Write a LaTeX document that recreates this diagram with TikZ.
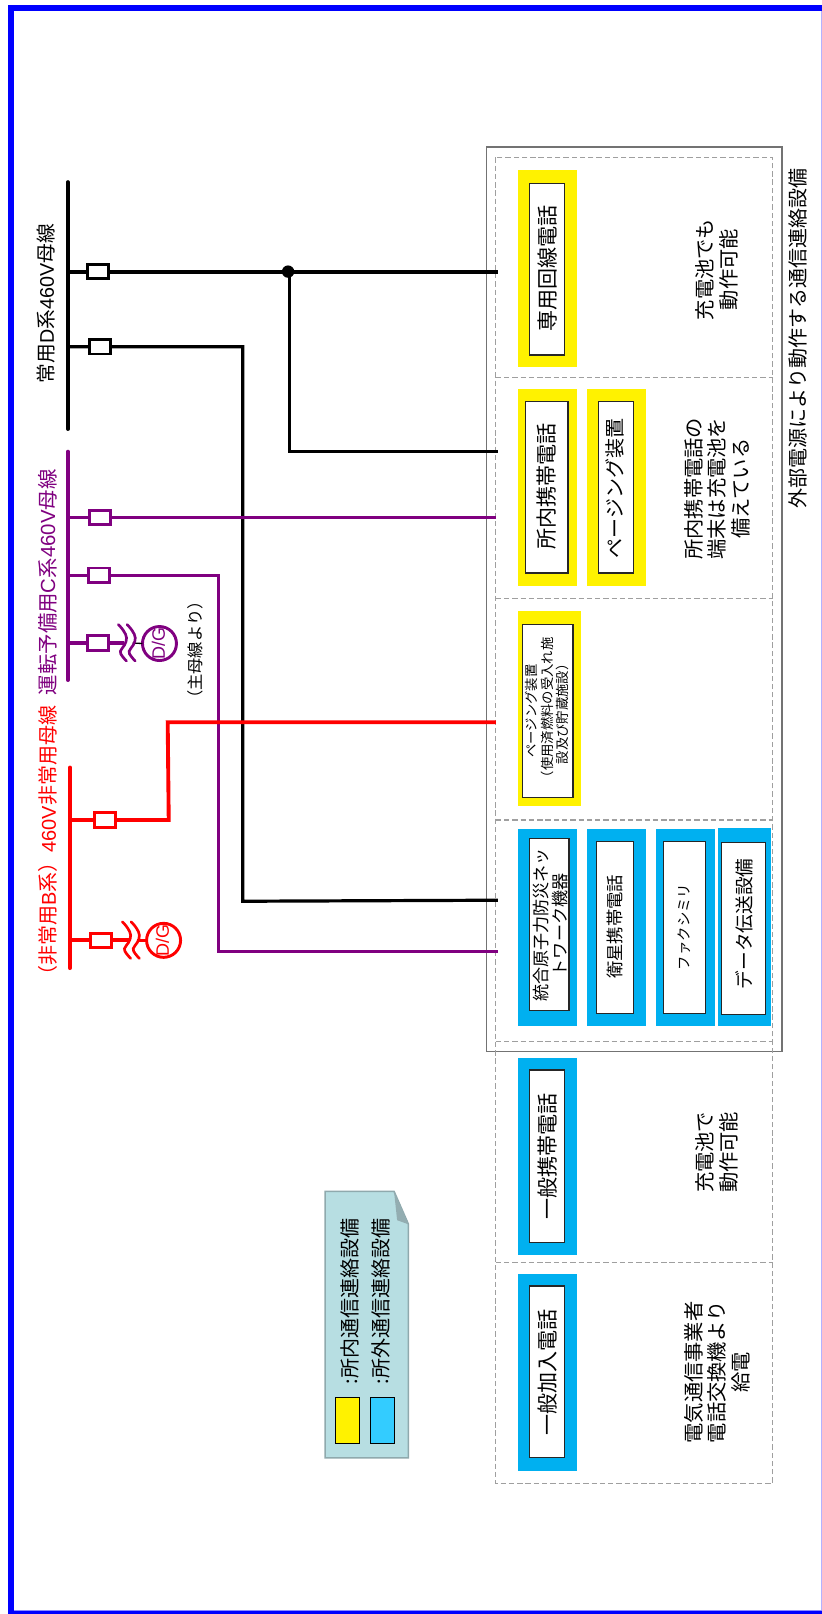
\documentclass[tikz,border=0pt]{standalone}
\usepackage{fontspec}
\setmainfont{Noto Sans CJK JP}
\newfontfamily\latinf{Liberation Sans}
\newcommand{\fs}[1]{\fontsize{#1}{\dimexpr#1pt*116/100\relax}\selectfont}
\definecolor{cyan1}{HTML}{00B0F0}
\definecolor{swatchb}{HTML}{33CCFF}
\definecolor{purp}{HTML}{800080}
\definecolor{legfill}{HTML}{B7DEE2}
\definecolor{legline}{HTML}{8FA9AD}
\definecolor{legfold}{HTML}{93ADB1}
\tikzset{
  x=0.7716pt,y=-0.7716pt,
  rt/.style={rotate=90,anchor=center,inner sep=0pt,align=center,text=black},
  busline/.style={line width=2.9pt,line cap=round},
  feed/.style={line width=2.4pt,line join=miter},
  breaker/.style={rectangle,draw,line width=2.1pt,fill=white,inner sep=0pt,outer sep=0pt,minimum width=15.8pt,minimum height=10.8pt},
  gen/.style={draw,circle,line width=2.2pt,fill=white,inner sep=0pt,outer sep=0pt,minimum size=25.5pt},
  gentext/.style={rotate=90,inner sep=0pt,font=\latinf\fs{13.5}},
  wave/.style={line width=2pt,line cap=round},
  yel/.style={fill=yellow,draw=none},
  blu/.style={fill=cyan1,draw=none},
  wb/.style={draw=black!85,line width=0.9pt,fill=white},
  dsh/.style={draw=gray!75,line width=0.8pt,dash pattern=on 4pt off 2.2pt},
}
\newcommand{\wavepair}[3]{% x of first stroke, y centre, colour
  \foreach \off in {0,8.5}{
    \draw[wave,#3,shift={(#1+\off,#2)}] plot[smooth,tension=0.7] coordinates {(0,-18) (5,-12) (8,-5) (6,2) (2,8) (4,13) (8,17.5)};
  }}
\begin{document}
\begin{tikzpicture}
\useasboundingbox (0,0) rectangle (798.97,1568.8);
\fill[white] (0,0) rectangle (798.97,1568.8);
% page frame
\fill[blue!45] (13.6,1564.9) rectangle (798.97,1566);
\draw[blue!30,line width=0.8pt] (798.3,11) -- (798.3,1565);
\fill[blue] (8,4.9) rectangle (798.97,10.7);
\fill[blue] (8,1565.8) rectangle (798.97,1568.8);
\fill[blue] (8,4.9) rectangle (13.6,1568.8);

% communication boxes frames
\draw[gray!90!black,line width=1pt] (473,143) rectangle (760,1022);
\draw[dsh] (482,153) rectangle (751,1442);
\foreach \yy in {367,582,797,1012,1227} \draw[dsh] (482,\yy) -- (751,\yy);

% yellow
\fill[yel] (503,165) rectangle (561,357);
\fill[yel] (503,378) rectangle (561,570);
\fill[yel] (571,378) rectangle (628,570);
\fill[yel] (503,594) rectangle (565,783);
% blue
\fill[blu] (503,806) rectangle (561,997);
\fill[blu] (571,806) rectangle (628,997);
\fill[blu] (638,806) rectangle (695,997);
\fill[blu] (698,805) rectangle (749,997);
\fill[blu] (503,1028) rectangle (561,1220);
\fill[blu] (503,1238) rectangle (561,1430);

% white boxes and labels
\draw[wb] (515,178) rectangle (549,345);
\node[rt,font=\fs{15.8}] (t1) at (532,261) {専用回線電話};
\draw[wb] (511,390) rectangle (552,557);
\node[rt,font=\fs{15.8}] (t2) at (531,473) {所内携帯電話};
\draw[wb] (582,390) rectangle (616,557);
\node[rt,font=\fs{15}] (t3) at (598,475) {ページング装置};
\draw[wb] (508,607) rectangle (557,775);
\node[rt,font=\fs{10}] (t4) at (532,691) {ページング装置\\（使用済燃料の受入れ施\\設及び貯蔵施設）};
\draw[wb] (515,815) rectangle (553,982);
\node[rt,font=\fs{12.8}] (t5) at (535,899) {統合原子力防災ネッ\\トワーク機器};
\draw[wb] (580,818) rectangle (616,985);
\node[rt,font=\fs{13}] (t6) at (598,901) {衛星携帯電話};
\draw[wb] (645,818) rectangle (686,985);
\node[rt,font=\fs{10.8}] (t7) at (665,901) {ファクシミリ};
\draw[wb] (701,819) rectangle (744,986);
\node[rt,font=\fs{14}] (t8) at (723,898) {データ伝送設備};
\draw[wb] (515,1040) rectangle (549,1208);
\node[rt,font=\fs{15.8}] (t9) at (532,1124) {一般携帯電話};
\draw[wb] (515,1250) rectangle (549,1417);
\node[rt,font=\fs{15.8}] (t10) at (532,1334) {一般加入電話};

% notes
\node[rt,font=\fs{15.2}] (n1) at (697,262) {充電池でも\\動作可能};
\node[rt,font=\fs{15.2}] (n2) at (697,475) {所内携帯電話の\\端末は充電池を\\備えている};
\node[rt,font=\fs{15.2}] (n3) at (697,1120) {充電池で\\動作可能};
\node[rt,font=\fs{15.2}] (n4) at (697,1334) {電気通信事業者\\電話交換機より\\給電};
\node[rt,font=\fs{15}] (n5) at (776,329) {外部電源により動作する通信連絡設備};

% buses
\coordinate (bd1) at (66,177); \coordinate (bd2) at (66,417);
\draw[busline] (bd1) -- (bd2);
\coordinate (bp1) at (66,439); \coordinate (bp2) at (66,661);
\draw[busline,purp] (bp1) -- (bp2);
\coordinate (br1) at (68,746); \coordinate (br2) at (68,941);
\draw[busline,red] (br1) -- (br2);
\node[rt,font=\fs{14.8}] (ld) at (45,295) {常用{\latinf D}系{\latinf 460V}母線};
\node[rt,font=\fs{15.3},text=purp] (lp) at (46,566) {運転予備用{\latinf C}系{\latinf 460V}母線};
\node[rt,font=\fs{15},text=red] (lr) at (47,822) {（非常用{\latinf B}系）{\latinf 460V}非常用母線};
\node[rt,font=\fs{12.2}] (lm) at (190,632) {（主母線より）};

% connector coordinates
\coordinate (e1) at (484,264); \coordinate (e2) at (484,439); \coordinate (e3) at (484,875);
\coordinate (e4) at (482,503); \coordinate (e5) at (484,925); \coordinate (e6) at (482,702);
\coordinate (s1) at (66,264); \coordinate (s2) at (66,337); \coordinate (s3) at (66,503);
\coordinate (s4) at (66,559); \coordinate (s5) at (66,625); \coordinate (s6) at (68,797); \coordinate (s7) at (68,914);
\coordinate (j1) at (280,264); \coordinate (j2) at (281,439);
\coordinate (k1) at (236,337); \coordinate (k2) at (236,876);
\coordinate (m1) at (212,559); \coordinate (m2) at (212,925);
\coordinate (r1) at (164,797); \coordinate (r2) at (163,702);
\coordinate (w1) at (121,625); \coordinate (w2) at (125,914); \coordinate (w3) at (133,914);
\coordinate (w4) at (129,625);

% feeders
\draw[feed,line width=2.9pt] (s1) -- (e1);
\draw[feed] (j1 -| j2) -- (j2) -- (e2);
\draw[feed] (s2) -- (k1) -- (k2) -- (e3);
\draw[feed,purp] (s4) -- (m1) -- (m2) -- (e5);
\draw[feed,purp,line width=2.6pt] (s3) -- (e4);
\draw[feed,red,line width=2.9pt] (s6) -- (r1) -- (r2) -- (e6);
\fill (j1) circle (6);
\draw[feed,purp,line width=2.9pt] (s5) -- (w1);
\draw[feed,red,line width=2.9pt] (s7) -- (w2);

% breakers
\node[breaker,draw=black] (b1) at (95.3,264) {};
\node[breaker,draw=black] (b2) at (97.3,337) {};
\node[breaker,draw=purp] (b3) at (97.3,503) {};
\node[breaker,draw=purp] (b4) at (96.3,559) {};
\node[breaker,draw=purp] (b5) at (95.3,625) {};
\node[breaker,draw=red] (b6) at (102.3,797) {};
\node[breaker,draw=red] (b7) at (98.3,914) {};

% generators
\node[gen,draw=purp] (g1) at (155,625.5) {};
\node[gentext,text=purp] (gt1) at (154,625.5) {D/G};
\node[gen,draw=red] (g2) at (159,914) {};
\node[gentext,text=red] (gt2) at (158,914) {D/G};
\draw[line width=1pt] (w4) -- (g1.west);
\draw[feed,red] (w3) -- (g2.west);
% waves
\wavepair{115}{625}{purp}
\wavepair{119}{914}{red}

% legend
\draw[draw=legline,fill=legfill,line width=1.2pt] (316,1158) -- (383,1158) -- (397,1190) -- (397,1417) -- (316,1417) -- cycle;
\fill[legfold] (383,1158) -- (397,1190) -- (386,1186) -- cycle;
\draw[black,line width=0.6pt,fill=yellow] (326,1358) rectangle (349,1403);
\draw[black,line width=0.6pt,fill=swatchb] (360,1358) rectangle (383,1403);
\node[rt,font=\fs{15}] (l1) at (340,1265) {:所内通信連絡設備};
\node[rt,font=\fs{15}] (l2) at (370,1265) {:所外通信連絡設備};
\end{tikzpicture}
\end{document}
